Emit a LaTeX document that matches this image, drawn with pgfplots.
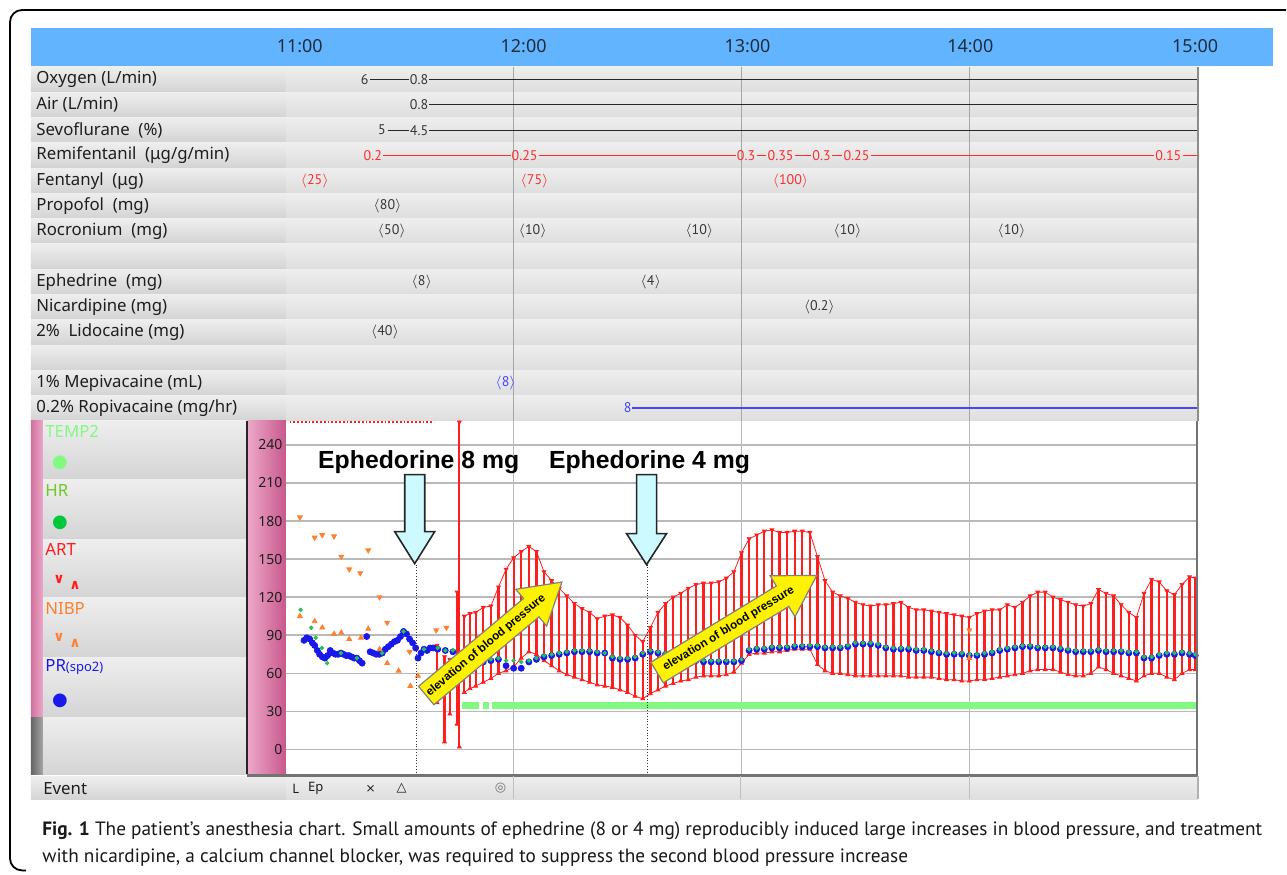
\documentclass[border=0pt]{standalone}
\usepackage{pgfplots}
\usepackage{pgfplotstable}
\pgfplotsset{compat=1.18}
\usepackage{fontspec}
\setmainfont{Noto Sans}
\newfontfamily\ptsans{PT Sans}
\newfontfamily\arial{Liberation Sans}
\newfontfamily\dejavu{DejaVu Sans}

\definecolor{hdrblue}{RGB}{99,180,254}
\definecolor{cellA}{RGB}{238,238,238}
\definecolor{cellB}{RGB}{212,212,212}
\definecolor{dataA}{RGB}{238,238,238}
\definecolor{dataB}{RGB}{222,222,222}
\definecolor{pinkL}{RGB}{236,168,200}
\definecolor{pinkR}{RGB}{200,88,140}
\definecolor{gridgray}{RGB}{185,185,185}
\definecolor{artred}{RGB}{255,30,30}
\definecolor{nibp}{RGB}{255,128,48}
\definecolor{prblue}{RGB}{25,25,235}
\definecolor{hrgreen}{RGB}{40,190,90}
\definecolor{hrdot}{RGB}{0,200,60}
\definecolor{tempgreen}{RGB}{130,250,130}
\definecolor{cyanfill}{RGB}{204,250,255}
\definecolor{labtxt}{RGB}{30,30,30}
\definecolor{valtxt}{RGB}{55,55,55}
\definecolor{timetxt}{RGB}{30,45,60}
\definecolor{drugred}{RGB}{255,45,45}
\definecolor{drugblue}{RGB}{70,70,255}
\definecolor{hrtxt}{RGB}{110,200,40}

\tikzset{
  rowlab/.style={anchor=west, inner sep=0pt, font=\fontsize{8.4}{9}\selectfont, text=labtxt},
  dv/.style={inner sep=0.3pt, font=\ptsans\fontsize{7}{8}\selectfont, text=valtxt},
  dvr/.style={dv, text=drugred},
  dvb/.style={dv, text=drugblue},
}
\newcommand{\dose}[1]{$\langle$#1$\rangle$}

% arterial pressure: minute after 11:00, systolic, diastolic
\pgfplotstableread{
t s d
39.8 82 37
41.8 73 6
43.2 71 28
45.1 124 20
45.7 258 2
47 105 45
48.5 107 48
50 108 50
52 112 53
54 113 56
56 128 60
58 142 62
60 151 65
62 156 72
64 160 77
66 156 75
68 140 70
70 133 66
72 127 62
74 121 59
76 115 57
78 111 55
80 108 53
82 103 51
84 105 50
86 106 49
88 104 47
90 98 45
92 90 42
94 85 40
96 96 44
98 108 47
100 115 50
102 120 52
104 123 54
106 127 55
108 130 57
110 131 58
112 131 58
114 132 58
116 135 59
118 140 61
120 155 68
122 166 75
124 169 76
126 172 76
128 173 77
130 171 77
132 171 78
134 172 79
136 172 79
138 171 79
140 152 67
142 133 62
144 124 60
146 121 60
148 119 59
150 116 58
152 114 58
154 113 58
156 114 58
158 114 58
160 115 58
162 116 58
164 112 57
166 110 57
168 110 57
170 109 57
172 108 56
174 107 55
176 106 55
178 105 54
180 104 54
182 107 55
184 109 55
186 110 56
188 110 57
190 114 58
192 112 59
194 116 60
196 121 62
198 124 63
200 124 63
202 120 63
204 118 61
206 116 59
208 114 58
210 113 58
212 115 60
214 126 65
216 123 63
218 121 60
220 114 58
222 108 56
224 104 54
226 123 58
228 134 60
230 132 60
232 125 57
234 122 55
236 130 60
238 136 63
239.5 135 63
}\artdata

% pulse rate (blue) and heart rate (green)
\pgfplotstableread{
t p
4.8 86
5.5 88
6.3 87
7.0 84
7.6 82
8.3 78
8.9 75
9.6 73
10.3 72
11.0 74
11.7 78
12.4 76
13.1 75
13.8 75
14.5 76
15.2 75
15.9 74
16.6 74
17.3 73
18.0 72
18.7 72
19.4 70
20.1 68
21.3 89
22.2 77
23.0 76
23.8 75
24.6 75
25.4 76
26.2 79
27.0 81
27.8 83
28.6 85
29.4 86
30.2 89
31.0 93
31.8 91
32.6 87
33.4 84
34.2 80
34.8 72
35.6 76
36.4 79
37.2 78
38.0 80
38.8 80
40 79
42 78
44 77
46 74
48 72
50 70
52 69
54 70
56 71
58 66
60 64
62 64
64 69
66 71
68 73
70 74
72 75
74 76
76 77
78 77
80 77
82 76
84 76
86 72
88 71
90 71
92 72
94 75
96 77
98 76
100 75
102 75
104 74
106 73
108 70
110 69
112 69
114 69
116 69
118 69
120 70
122 78
124 79
126 79
128 80
130 80
132 80
134 81
136 81
138 81
140 81
142 80
144 80
146 80
148 81
150 83
152 83
154 83
156 82
158 80
160 79
162 79
164 79
166 78
168 78
170 77
172 76
174 75
176 75
178 75
180 74
182 74
184 75
186 76
188 78
190 79
192 80
194 81
196 81
198 80
200 80
202 80
204 79
206 78
208 77
210 77
212 77
214 78
216 77
218 77
220 77
222 76
224 76
226 72
228 72
230 74
232 75
234 75
236 76
238 75
239.5 74
}\prdata

\pgfplotstableread{
t h
3.9 110
6.7 96
7.9 88
9.5 80
10.9 68
14.5 76
18.7 72
25.4 76
31.0 93
36.4 79
40 80
42 78
44 78
46 75
48 73
50 71
52 70
54 71
56 72
58 70
60 70
62 69
64 70
66 72
68 74
70 75
72 76
74 77
76 78
78 78
80 78
82 77
84 76
86 73
88 72
90 72
92 73
94 76
96 78
98 77
100 76
102 76
104 75
106 74
108 71
110 70
112 70
114 70
116 70
118 70
120 71
122 79
124 80
126 80
128 81
130 81
132 81
134 82
136 82
138 82
140 82
142 81
144 81
146 81
148 82
150 84
152 84
154 84
156 83
158 81
160 80
162 80
164 80
166 79
168 79
170 78
172 77
174 76
176 76
178 76
180 75
182 75
184 76
186 77
188 79
190 80
192 81
194 82
196 82
198 81
200 81
202 81
204 80
206 79
208 78
210 78
212 78
214 79
216 78
218 78
220 78
222 77
224 77
226 73
228 73
230 75
232 76
234 76
236 77
238 76
239.5 75
}\hrdata

\begin{document}
\begin{tikzpicture}
\begin{scope}[x=0.5pt,y=-0.5pt]
\useasboundingbox (0,0) rectangle (1287,875);
\fill[white] (0,0) rectangle (1287,875);
% header
\fill[hdrblue] (31,28) rectangle (1274,66);
\foreach \x/\t in {300/11:00,524/12:00,748/13:00,971/14:00,1196/15:00}
  \node[font=\fontsize{9}{10}\selectfont, text=timetxt] at (\x,46) {\t};
% drug rows
\foreach \r in {0,...,13} {
  \pgfmathsetmacro\ya{67+25.3*\r}
  \pgfmathsetmacro\yb{67+25.3*(\r+1)-0.8}
  \shade[top color=cellA, bottom color=cellB] (31,\ya) rectangle (286,\yb);
  \shade[top color=dataA, bottom color=dataB] (286,\ya) rectangle (1199,\yb);
}
% lower legend column
\foreach \ya/\yb in {421/480,480/540,540/598,598/658,658/718,718/775}
  \shade[top color=cellA, bottom color=cellB] (43,\ya) rectangle (247,\yb);
\shade[left color=pinkR!85, right color=pinkL] (31,421) rectangle (43,718);
\shade[left color=black!60, right color=black!35] (31,718) rectangle (43,775);
\shade[left color=pinkL, right color=pinkR] (248,421) rectangle (286,775);
\draw[black!85, line width=1pt] (247,421) -- (247,775);
\fill[white] (286,421) rectangle (1198,775);
% event row
\shade[top color=cellA, bottom color=cellB] (31,777) rectangle (286,800);
\shade[top color=dataA, bottom color=dataB] (286,777) rectangle (1199,800);
\end{scope}

% ---------- drug rows ----------
\begin{axis}[at={(143pt,-210.5pt)}, anchor=south west, scale only axis,
  width=456pt, height=177pt, xmin=0, xmax=240, ymin=0.5, ymax=14.5, y dir=reverse,
  axis line style={draw=none}, tick style={draw=none},
  xtick={60,120,180}, xticklabels={}, ytick=\empty,
  xmajorgrids, major grid style={draw=black!35, line width=0.5pt}, clip=false]
% oxygen, air, sevoflurane
\addplot[black!85, line width=0.6pt] coordinates {(22.3,1) (32.4,1)};
\addplot[black!85, line width=0.6pt] coordinates {(37.8,1) (240,1)};
\addplot[black!85, line width=0.6pt] coordinates {(37.8,2) (240,2)};
\addplot[black!85, line width=0.6pt] coordinates {(26.8,3) (32.4,3)};
\addplot[black!85, line width=0.6pt] coordinates {(37.8,3) (240,3)};
\node[dv] at (axis cs:20.8,1) {6};
\node[dv] at (axis cs:35.1,1) {0.8};
\node[dv] at (axis cs:35.1,2) {0.8};
\node[dv] at (axis cs:25.3,3) {5};
\node[dv] at (axis cs:35.1,3) {4.5};
% remifentanil
\addplot[drugred, line width=0.6pt] coordinates {(25.6,4) (59.3,4)};
\addplot[drugred, line width=0.6pt] coordinates {(66.7,4) (118.5,4)};
\addplot[drugred, line width=0.6pt] coordinates {(124,4) (126.4,4)};
\addplot[drugred, line width=0.6pt] coordinates {(134.2,4) (138.4,4)};
\addplot[drugred, line width=0.6pt] coordinates {(143.9,4) (146.5,4)};
\addplot[drugred, line width=0.6pt] coordinates {(154.2,4) (228.5,4)};
\addplot[drugred, line width=0.6pt] coordinates {(236.3,4) (240,4)};
\node[dvr] at (axis cs:22.9,4) {0.2};
\node[dvr] at (axis cs:62.9,4) {0.25};
\node[dvr] at (axis cs:121.2,4) {0.3};
\node[dvr] at (axis cs:130.3,4) {0.35};
\node[dvr] at (axis cs:141.1,4) {0.3};
\node[dvr] at (axis cs:150.3,4) {0.25};
\node[dvr] at (axis cs:232.4,4) {0.15};
% boluses
\node[dvr] at (axis cs:7.6,5) {\dose{25}};
\node[dvr] at (axis cs:65.5,5) {\dose{75}};
\node[dvr] at (axis cs:132.9,5) {\dose{100}};
\node[dv] at (axis cs:26.8,6) {\dose{80}};
\node[dv] at (axis cs:27.9,7) {\dose{50}};
\node[dv] at (axis cs:65,7) {\dose{10}};
\node[dv] at (axis cs:108.9,7) {\dose{10}};
\node[dv] at (axis cs:147.9,7) {\dose{10}};
\node[dv] at (axis cs:191.1,7) {\dose{10}};
\node[dv] at (axis cs:35.8,9) {\dose{8}};
\node[dv] at (axis cs:96.1,9) {\dose{4}};
\node[dv] at (axis cs:140.5,10) {\dose{0.2}};
\node[dv] at (axis cs:26.1,11) {\dose{40}};
\node[dvb] at (axis cs:57.9,13) {\dose{8}};
% ropivacaine infusion
\addplot[drugblue, line width=0.7pt] coordinates {(91.2,14) (240,14)};
\node[dvb] at (axis cs:90,14) {8};
\end{axis}

% ---------- vital signs ----------
\begin{axis}[at={(143pt,-387.5pt)}, anchor=south west, scale only axis,
  width=456pt, height=177pt, xmin=0, xmax=240, ymin=-19.7, ymax=259.05,
  axis line style={draw=none}, tick style={draw=none},
  xtick={60,120,180}, xticklabels={},
  ytick={0,30,60,90,120,150,180,210,240},
  yticklabels={0,30,60,90,120,150,180,210,240},
  yticklabel style={anchor=east, inner sep=0pt, xshift=-1.5pt,
    font=\fontsize{7}{8}\selectfont, text=labtxt},
  grid=major, major grid style={draw=gridgray, line width=0.8pt}]
% TEMP2
\addplot[tempgreen, line width=3.5pt] coordinates {(46.5,34.6) (51,34.6)};
\addplot[tempgreen, line width=3.5pt] coordinates {(52,34.6) (53.4,34.6)};
\addplot[tempgreen, line width=3.5pt] coordinates {(54.4,34.6) (240,34.6)};
% ART out of range
\addplot[artred, line width=0.9pt, densely dotted] coordinates {(1,258) (39,258)};
% ART bars
\addplot[only marks, mark=triangle*, mark size=1.1pt, artred,
  error bars/.cd, y dir=plus, y explicit, error mark=none,
  error bar style={artred, line width=1.15pt}]
  table[x=t, y=d, y error plus expr={\thisrow{s}-\thisrow{d}}] {\artdata};
\addplot[artred, line width=0.4pt, restrict x to domain=46:240] table[x=t, y=s] {\artdata};
\addplot[artred, line width=0.4pt, restrict x to domain=46:240] table[x=t, y=d] {\artdata};
\addplot[only marks, mark=triangle*, mark size=1.1pt, artred, mark options={rotate=180}]
  table[x=t, y=s] {\artdata};
% PR (SpO2) and HR
\addplot[only marks, mark=*, mark size=1.5pt, prblue] table[x=t, y=p] {\prdata};
\addplot[only marks, mark=*, mark size=0.9pt, hrgreen] table[x=t, y=h] {\hrdata};
% NIBP
\addplot[only marks, mark=triangle*, mark size=1.4pt, nibp, mark options={rotate=180}]
  table[x=t, y=s] {
t s
3.7 183
7.6 167
9.6 169
12.7 168
14.6 152
16.7 142
19.6 139
21.7 157
24.7 120
26.7 100
32.6 77
39.6 94
42.3 96
180 94
};
\addplot[only marks, mark=triangle*, mark size=1.4pt, nibp] table[x=t, y=d] {
t d
3.7 105
7.6 101
9.6 96
12.7 91
14.6 92
16.7 87
19.8 88
21.7 95
24.7 79
26.7 68
29.7 62
32.8 50
34.8 58
180 72
};
\end{axis}

\begin{scope}[x=0.5pt,y=-0.5pt]
% borders
\draw[black!45, line width=1pt] (1199,67) -- (1199,421);
\draw[black!55, line width=1pt] (1198,421) -- (1198,776);
\draw[black!55, line width=1.2pt] (247,776) -- (1199,776);
\foreach \x in {514,741,970} \draw[black!25, line width=0.5pt] (\x,777) -- (\x,800);
\draw[black!30, line width=1pt] (1199,777) -- (1199,800);
% event markers
\draw[black!80, line width=0.4pt, densely dotted] (417,565) -- (417,775);
\draw[black!80, line width=0.4pt, densely dotted] (648,565) -- (648,775);
\draw[fill=cyanfill, draw=black!85, line width=0.8pt]
  (405,475) -- (425,475) -- (425,532) -- (435,532) -- (415,564) -- (395,532) -- (405,532) -- cycle;
\draw[fill=cyanfill, draw=black!85, line width=0.8pt]
  (637,475) -- (657,475) -- (657,534) -- (667,534) -- (647,565) -- (627,534) -- (637,534) -- cycle;
\node[font=\arial\bfseries\fontsize{12.4}{14}\selectfont] at (419,462) {Ephedorine 8 mg};
\node[font=\arial\bfseries\fontsize{12.4}{14}\selectfont] at (650,462) {Ephedorine 4 mg};
% yellow arrows
\begin{scope}[shift={(426.5,696)}, rotate=39.9]
\draw[fill=yellow, draw=black!50, line width=0.6pt]
  (0,-12) -- (137,-12) -- (137,-24) -- (177,0) -- (137,24) -- (137,12) -- (0,12) -- cycle;
\node[transform shape, font=\arial\bfseries\fontsize{5.8}{6}\selectfont] at (78,0) {elevation of blood pressure};
\end{scope}
\begin{scope}[shift={(657.5,673)}, rotate=31.3]
\draw[fill=yellow, draw=black!50, line width=0.6pt]
  (0,-12) -- (147,-12) -- (147,-24) -- (187,0) -- (147,24) -- (147,12) -- (0,12) -- cycle;
\node[transform shape, font=\arial\bfseries\fontsize{5.8}{6}\selectfont] at (84,0) {elevation of blood pressure};
\end{scope}
% drug labels
\node[rowlab] at (36,79.6) {Oxygen (L/min)};
\node[rowlab] at (36,104.9) {Air (L/min)};
\node[rowlab] at (36,130.2) {Sevoflurane\ \ (\%)};
\node[rowlab] at (36,155.5) {Remifentanil\ \ (μg/g/min)};
\node[rowlab] at (36,180.8) {Fentanyl\ \ (μg)};
\node[rowlab] at (36,206.1) {Propofol\ \ (mg)};
\node[rowlab] at (36,231.4) {Rocronium\ \ (mg)};
\node[rowlab] at (36,282) {Ephedrine\ \ (mg)};
\node[rowlab] at (36,307.3) {Nicardipine (mg)};
\node[rowlab] at (36,332.6) {2\%\ \ Lidocaine (mg)};
\node[rowlab] at (36,383.2) {1\% Mepivacaine (mL)};
\node[rowlab] at (36,408.5) {0.2\% Ropivacaine (mg/hr)};
% vital legend
\node[rowlab, text=tempgreen] at (45,432) {TEMP2};
\node[font=\dejavu\fontsize{9}{9}\selectfont, text=tempgreen] at (60,463) {●};
\node[rowlab, text=hrtxt] at (45,491) {HR};
\node[font=\dejavu\fontsize{9}{9}\selectfont, text=hrdot] at (60,523) {●};
\node[rowlab, text=artred] at (45,550) {ART};
\node[font=\dejavu\bfseries\fontsize{7}{7}\selectfont, text=artred] at (59,580) {∨};
\node[font=\dejavu\bfseries\fontsize{7}{7}\selectfont, text=artred] at (75,586) {∧};
\node[rowlab, text=nibp] at (45,609) {NIBP};
\node[font=\dejavu\bfseries\fontsize{7}{7}\selectfont, text=nibp] at (59,638) {∨};
\node[font=\dejavu\bfseries\fontsize{7}{7}\selectfont, text=nibp] at (75,644) {∧};
\node[rowlab, text=prblue] at (45,668) {PR{\fontsize{6.5}{7}\selectfont(spo2)}};
\node[font=\dejavu\fontsize{9}{9}\selectfont, text=prblue] at (60,701) {●};
% event row
\node[rowlab] at (43,789) {Event};
\node[font=\fontsize{6.5}{7}\selectfont, text=labtxt] at (296,789) {L};
\node[font=\fontsize{6.5}{7}\selectfont, text=labtxt] at (316,789) {Ep};
\node[font=\dejavu\fontsize{6}{7}\selectfont, text=labtxt] at (371,789) {×};
\node[font=\dejavu\fontsize{6.5}{7}\selectfont, text=labtxt] at (402,789) {△};
\node[font=\dejavu\fontsize{6.5}{7}\selectfont, text=black!55] at (501,789) {◎};
% caption
\node[anchor=base west, inner sep=0pt, font=\ptsans\fontsize{9.65}{11}\selectfont, text=black!90]
  at (42,836) {\textbf{Fig. 1} The patient’s anesthesia chart. Small amounts of ephedrine (8 or 4 mg) reproducibly induced large increases in blood pressure, and treatment};
\node[anchor=base west, inner sep=0pt, font=\ptsans\fontsize{9.65}{11}\selectfont, text=black!90]
  at (42,863) {with nicardipine, a calcium channel blocker, was required to suppress the second blood pressure increase};
% frame
\draw[black, line width=0.9pt, rounded corners=6pt] (1287,10) -- (10,10) -- (10,871) -- (26,871);
\end{scope}
\end{tikzpicture}
\end{document}
